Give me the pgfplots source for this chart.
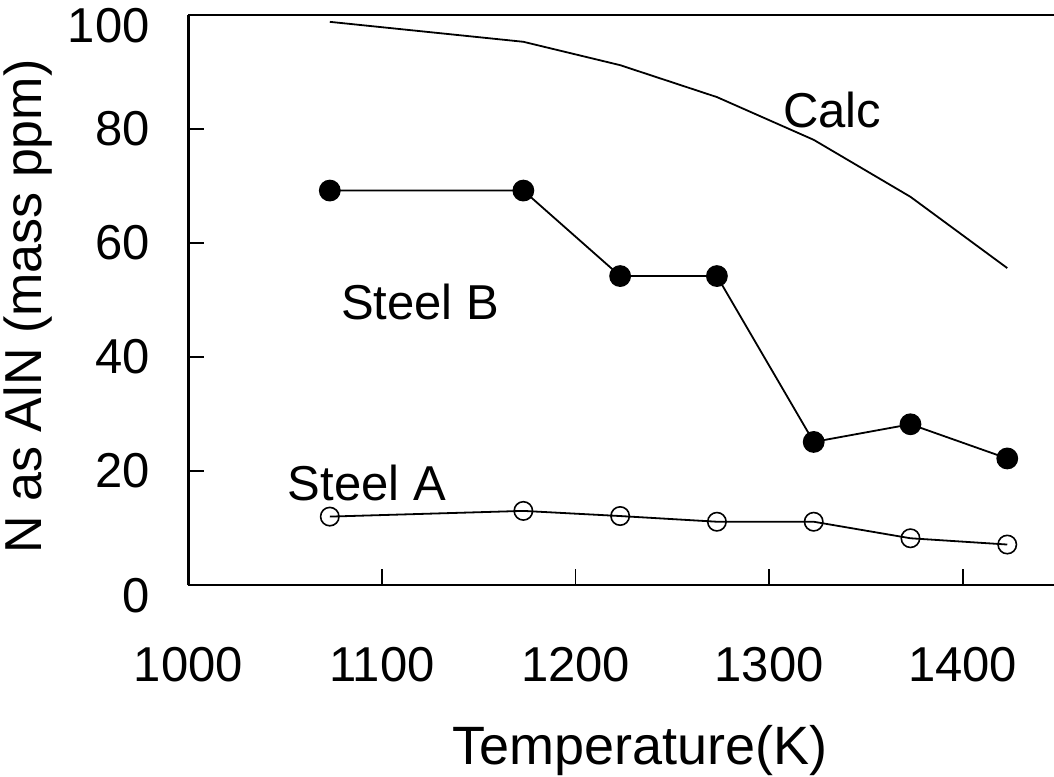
\documentclass[border=0pt]{standalone}
\usepackage{pgfplots}
\pgfplotsset{compat=1.18}
\usepackage{fontspec}
\setmainfont{Liberation Sans}
\begin{document}
\fontsize{24.5}{29}\selectfont
\begin{tikzpicture}
\begin{axis}[
  scale only axis,
  width=432.6pt, height=285pt,
  xmin=1000, xmax=1447, ymin=0, ymax=100,
  axis x line*=box, axis y line*=left,
  axis line style={line width=1.1pt, -},
  xtick={1000,1100,1200,1300,1400},
  ytick={20,40,60,80},
  extra y ticks={0,100},
  extra y tick style={yticklabel style={yshift=-5.5pt}},
  xtick pos=bottom, ytick pos=left,
  tick align=inside,
  major tick length=8pt,
  tick style={line width=0.8pt, black},
  /pgf/number format/assume math mode=true,
  /pgf/number format/1000 sep={},
  xticklabel style={inner sep=0pt, anchor=center, yshift=-40pt},
  yticklabel style={inner sep=0pt, anchor=east, xshift=-19.25pt},
  xlabel={Temperature(K)},
  ylabel={N as AlN (mass ppm)},
  xlabel style={at={(axis description cs:0.522,-0.291)}, anchor=center, inner sep=0pt, font=\fontsize{27}{32}\selectfont},
  ylabel style={at={(axis description cs:-0.185,0.4886)}, anchor=center, rotate=0, inner sep=0pt, font=\fontsize{26}{31}\selectfont},
  clip=false,
]
\coordinate (o) at (rel axis cs:0,0);
\addplot[black, line width=0.9pt, no marks] coordinates {
(1073,98.8) (1173,95.3) (1223,91.2) (1273,85.6) (1323,78.1) (1373,68.1) (1423,55.6)};
\addplot[black, line width=0.9pt, mark=*, mark size=5pt] coordinates {
(1073,69.2) (1173,69.2) (1223,54.2) (1273,54.2) (1323,25.1) (1373,28.2) (1423,22.2)};
\addplot[black, line width=0.9pt, mark=o, mark size=4.6pt, mark options={line width=0.8pt}] coordinates {
(1073,12.0) (1173,13.0) (1223,12.1) (1273,11.1) (1323,11.1) (1373,8.2) (1423,7.1)};
\node[anchor=center, inner sep=0pt] at (axis cs:1332.5,83.3) {Calc};
\node[anchor=center, inner sep=0pt] at (axis cs:1119.6,49.6) {Steel B};
\node[anchor=center, inner sep=0pt] at (axis cs:1092.2,17.9) {Steel A};
\end{axis}
\pgfresetboundingbox
\useasboundingbox (o) ++(-94.25pt,-95.5pt) rectangle ++(527pt,388pt);
\end{tikzpicture}
\end{document}
